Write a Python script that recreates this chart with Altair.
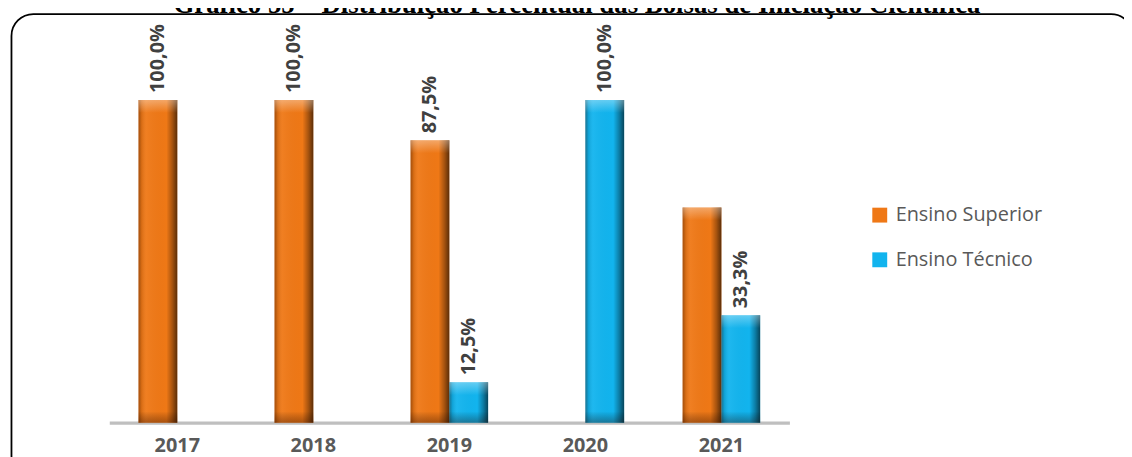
import altair as alt
import pandas as pd

# ---- data ----
years = ["2017", "2018", "2019", "2020", "2021"]
series = ["Ensino Superior", "Ensino Técnico"]
superior = [100.0, 100.0, 87.5, 0.0, 66.7]
tecnico = [0.0, 0.0, 12.5, 100.0, 33.3]
# labels as printed in the reference (the 2021 "Ensino Superior" bar is unlabelled)
superior_labels = ["100,0%", "100,0%", "87,5%", "", ""]
tecnico_labels = ["", "", "12,5%", "100,0%", "33,3%"]
colors = ["#EF7816", "#12B4EE"]
title_text = "Gráfico 55 – Distribuição Percentual das Bolsas de Iniciação Científica"

rows = []
for i, y in enumerate(years):
    for s, vals, labs in ((series[0], superior, superior_labels), (series[1], tecnico, tecnico_labels)):
        if vals[i] > 0:
            rows.append({"ano": y, "serie": s, "valor": vals[i], "rotulo": labs[i]})
df = pd.DataFrame(rows)

W, H = 685, 405
YMAX = 124.615

x_enc = alt.X(
    "ano:N",
    sort=years,
    scale=alt.Scale(domain=years, paddingInner=0.43, paddingOuter=0.215),
    axis=alt.Axis(
        title=None, labelAngle=0, ticks=False, grid=False,
        domainColor="#bfbfbf", domainWidth=3.5,
        labelFont="Open Sans", labelFontWeight="bold", labelFontSize=20,
        labelColor="#595959", labelPadding=13,
    ),
)
xo_enc = alt.XOffset("serie:N", scale=alt.Scale(domain=series, paddingInner=0, paddingOuter=0))
y_scale = alt.Scale(domain=[0, YMAX], nice=False, zero=True)
y_enc = alt.Y("valor:Q", scale=y_scale, axis=None)

base = alt.Chart(df)

bars = base.mark_bar().encode(
    x=x_enc, xOffset=xo_enc, y=y_enc,
    color=alt.Color(
        "serie:N",
        scale=alt.Scale(domain=series, range=colors),
        legend=alt.Legend(
            title=None, orient="none", legendX=766, legendY=186,
            symbolType="square", symbolSize=225, symbolStrokeWidth=0,
            labelFont="Open Sans", labelFontSize=20, labelColor="#595959",
            labelOffset=6, rowPadding=25, padding=0,
        ),
    ),
)

# side bevel shading
shade = base.mark_bar(
    fill=alt.Gradient(
        gradient="linear", x1=0, x2=1, y1=0, y2=0,
        stops=[
            alt.GradientStop(color="rgba(60,20,0,0.40)", offset=0),
            alt.GradientStop(color="rgba(0,0,0,0.10)", offset=0.08),
            alt.GradientStop(color="rgba(255,255,255,0.05)", offset=0.2),
            alt.GradientStop(color="rgba(0,0,0,0)", offset=0.72),
            alt.GradientStop(color="rgba(0,0,0,0.30)", offset=0.87),
            alt.GradientStop(color="rgba(0,0,0,0.62)", offset=1),
        ],
    ),
).encode(x=x_enc, xOffset=xo_enc, y=y_enc)

# top highlight bevel
top_bevel = base.transform_calculate(low="datum.valor - 4").mark_bar(
    fill=alt.Gradient(
        gradient="linear", x1=0, x2=0, y1=0, y2=1,
        stops=[
            alt.GradientStop(color="rgba(255,255,255,0.35)", offset=0),
            alt.GradientStop(color="rgba(255,255,255,0)", offset=1),
        ],
    ),
).encode(x=x_enc, xOffset=xo_enc, y=y_enc, y2="low:Q")

# bottom dark bevel
bot_bevel = base.transform_calculate(low="3.5").mark_bar(
    fill=alt.Gradient(
        gradient="linear", x1=0, x2=0, y1=0, y2=1,
        stops=[
            alt.GradientStop(color="rgba(0,0,0,0)", offset=0),
            alt.GradientStop(color="rgba(40,10,0,0.35)", offset=1),
        ],
    ),
).encode(x=x_enc, xOffset=xo_enc, y=alt.Y("low:Q", scale=y_scale, axis=None), y2=alt.datum(0))

labels = base.mark_text(
    angle=270, align="left", baseline="middle", dx=7,
    font="Open Sans", fontWeight="bold", fontSize=20, color="#404040",
).encode(x=x_enc, xOffset=xo_enc, y=y_enc, text="rotulo:N")

border = alt.Chart(pd.DataFrame({"k": [0]})).mark_rect(
    fill=None, stroke="#000000", strokeWidth=1.8, cornerRadius=22, clip=False,
).encode(x=alt.value(-98.5), x2=alt.value(1031), y=alt.value(-6.5), y2=alt.value(460))

title = alt.Chart(pd.DataFrame({"t": [title_text]})).mark_text(
    font="Liberation Serif", fontWeight="bold", fontSize=27, color="#000000",
    align="center", baseline="alphabetic",
).encode(x=alt.value(471), y=alt.value(-7.5), text="t:N")

chart = alt.layer(border, title, bars, shade, top_bevel, bot_bevel, labels).properties(
    width=W, height=H,
    autosize=alt.AutoSizeParams(type="none"),
    padding={"left": 102, "top": 11, "right": 337, "bottom": 33},
).configure(
    font="Open Sans",
    view=alt.ViewConfig(stroke="transparent", strokeWidth=0),
)

chart.save("out.html", embed_options={"renderer": "svg", "actions": False})
